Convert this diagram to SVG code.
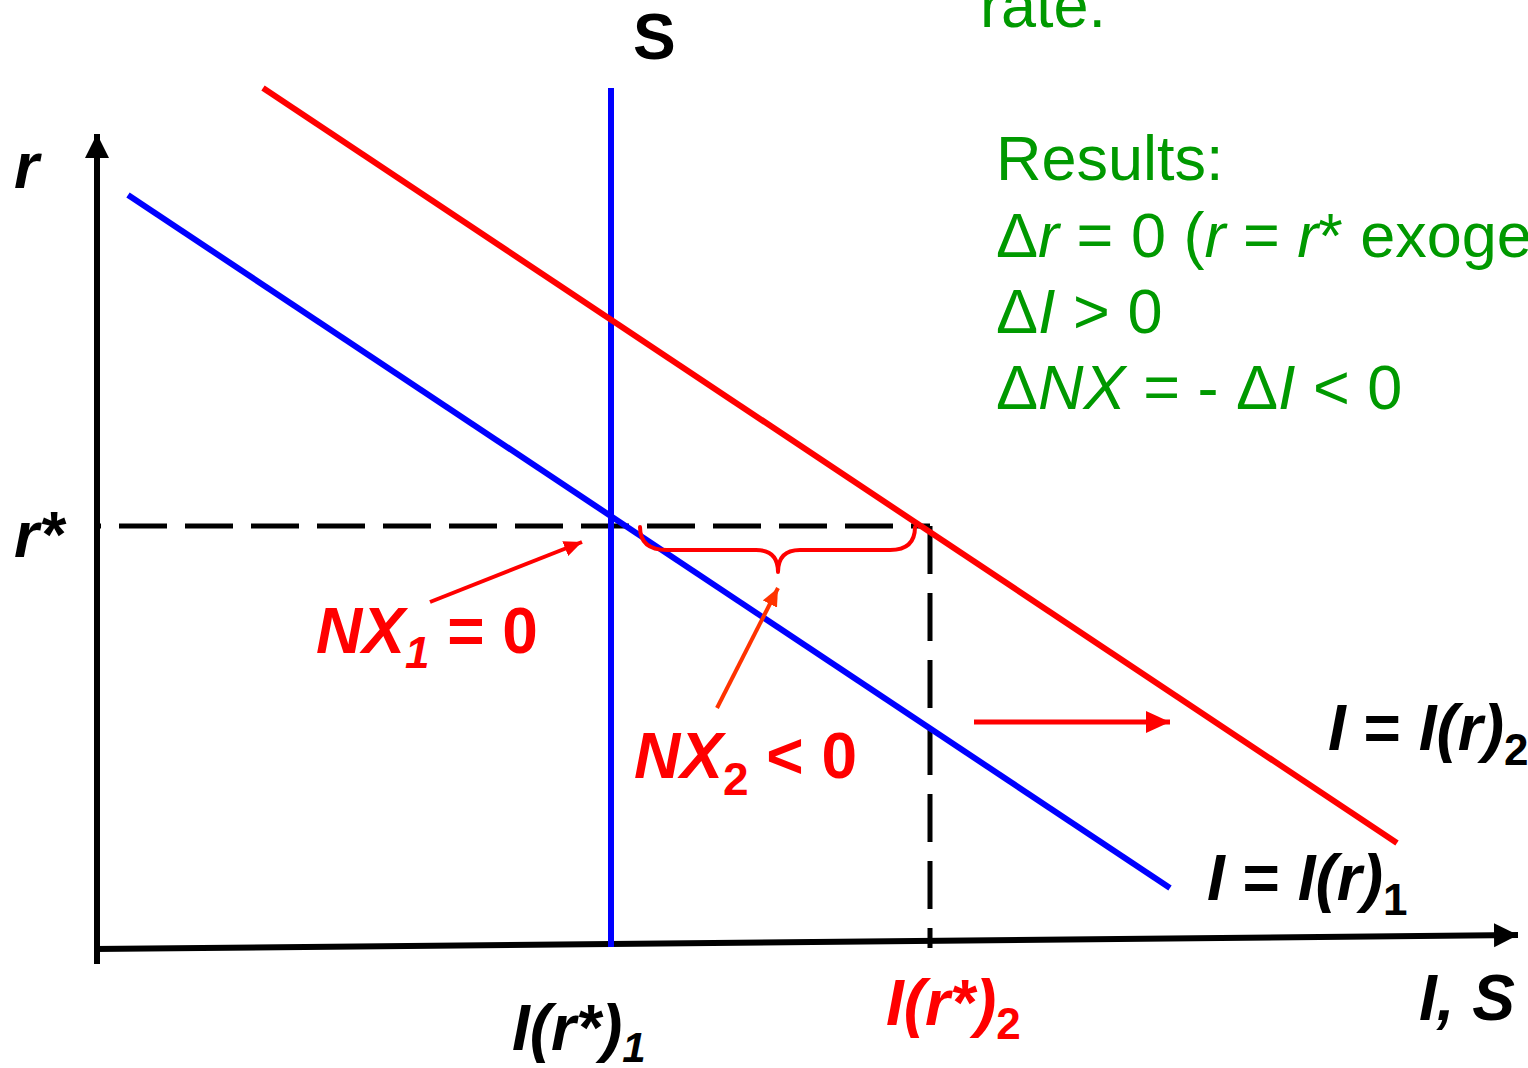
<svg xmlns="http://www.w3.org/2000/svg" width="1528" height="1068" viewBox="0 0 1528 1068">
<style>
.lbl{font-family:"Liberation Sans",Arial,sans-serif;font-weight:bold;font-style:italic;font-size:64px}
.up{font-style:normal}
.it{font-style:italic}
.green{font-family:"Liberation Sans",Arial,sans-serif;font-size:63px;fill:#009900}
.red{fill:#FF0000}
</style>
<defs>
<marker id="axh" markerUnits="userSpaceOnUse" markerWidth="26" markerHeight="26" refX="24" refY="12" orient="auto"><path d="M0,0 L24,12 L0,24 Z" fill="#000"/></marker>
<marker id="rh" markerUnits="userSpaceOnUse" markerWidth="26" markerHeight="24" refX="24" refY="11" orient="auto"><path d="M0,0 L24,11 L0,22 Z" fill="#FF0000"/></marker>
<marker id="sh" markerUnits="userSpaceOnUse" markerWidth="20" markerHeight="16" refX="18" refY="8" orient="auto"><path d="M0,0 L18,8 L0,16 Z" fill="#FF0000"/></marker>
<marker id="oh" markerUnits="userSpaceOnUse" markerWidth="20" markerHeight="16" refX="18" refY="8" orient="auto"><path d="M0,0 L18,8 L0,16 Z" fill="#FF3300"/></marker>
</defs>
<rect width="1528" height="1068" fill="#fff"/>
<g id="connectors" fill="none">
<line x1="97" y1="964" x2="97" y2="134" stroke="#000" stroke-width="6" marker-end="url(#axh)"/>
<line x1="94" y1="949" x2="1518" y2="935" stroke="#000" stroke-width="6" marker-end="url(#axh)"/>
<line x1="97" y1="526" x2="930" y2="526" stroke="#000" stroke-width="5" stroke-dasharray="48 18" stroke-dashoffset="44"/>
<line x1="930" y1="526" x2="930" y2="948" stroke="#000" stroke-width="5" stroke-dasharray="48 19"/>
<line id="S-curve" x1="611" y1="88" x2="611" y2="947" stroke="#0000FF" stroke-width="6"/>
<line id="I1-curve" x1="128" y1="195" x2="1170" y2="888" stroke="#0000FF" stroke-width="6"/>
<line id="I2-curve" x1="263" y1="88" x2="1397" y2="843" stroke="#FF0000" stroke-width="6"/>
<line x1="974" y1="722" x2="1170" y2="722" stroke="#FF0000" stroke-width="5" marker-end="url(#rh)"/>
<line x1="430" y1="602" x2="582" y2="542" stroke="#FF0000" stroke-width="4" marker-end="url(#sh)"/>
<line x1="717" y1="708" x2="778" y2="588" stroke="#FF3300" stroke-width="4" marker-end="url(#oh)"/>
<path d="M640,527 Q640,550 667,550 L756,550 Q778,550 778,572 Q778,550 800,550 L890,550 Q915,550 915,527" stroke="#FF0000" stroke-width="4" stroke-linecap="round" stroke-linejoin="round"/>
</g>
<g id="label-S"><text class="lbl up" x="633" y="59" font-size="67">S</text></g>
<g id="label-r"><text class="lbl" x="14" y="188" font-size="52">r</text></g>
<g id="label-rstar"><text class="lbl" x="14" y="557" font-size="52">r*</text></g>
<g id="label-NX1"><text class="lbl red" x="316" y="653">NX<tspan font-size="44" dy="15">1</tspan><tspan class="up" dy="-15"> = 0</tspan></text></g>
<g id="label-NX2"><text class="lbl red" x="634" y="778">NX<tspan class="up" font-size="46" dy="17">2</tspan><tspan class="up" dy="-17"> &lt; 0</tspan></text></g>
<g id="label-I2"><text class="lbl" x="1328" y="750" font-size="63">I <tspan class="up">=</tspan> I(r)<tspan class="up" font-size="44" dy="15">2</tspan></text></g>
<g id="label-I1"><text class="lbl" x="1207" y="900" font-size="63">I <tspan class="up">=</tspan> I(r)<tspan class="up" font-size="44" dy="15">1</tspan></text></g>
<g id="label-Ir1"><text class="lbl" x="512" y="1050" font-size="62">I(r*)<tspan font-size="42" dy="12">1</tspan></text></g>
<g id="label-Ir2"><text class="lbl red" x="886" y="1025" font-size="60">I(r*)<tspan class="up" font-size="44" dy="14">2</tspan></text></g>
<g id="label-IS"><text class="lbl" x="1419" y="1020" font-size="66">I, S</text></g>
<g id="results">
<text class="green" x="980" y="27">rate.</text>
<text class="green" x="996" y="180">Results:</text>
<text class="green" x="996" y="257">Δ<tspan class="it">r</tspan> = 0 (<tspan class="it">r</tspan> = <tspan class="it">r</tspan>* exoge</text>
<text class="green" x="996" y="333">Δ<tspan class="it">I</tspan> &gt; 0</text>
<text class="green" x="996" y="409">Δ<tspan class="it">NX</tspan> = - Δ<tspan class="it">I</tspan> &lt; 0</text>
</g>
</svg>
